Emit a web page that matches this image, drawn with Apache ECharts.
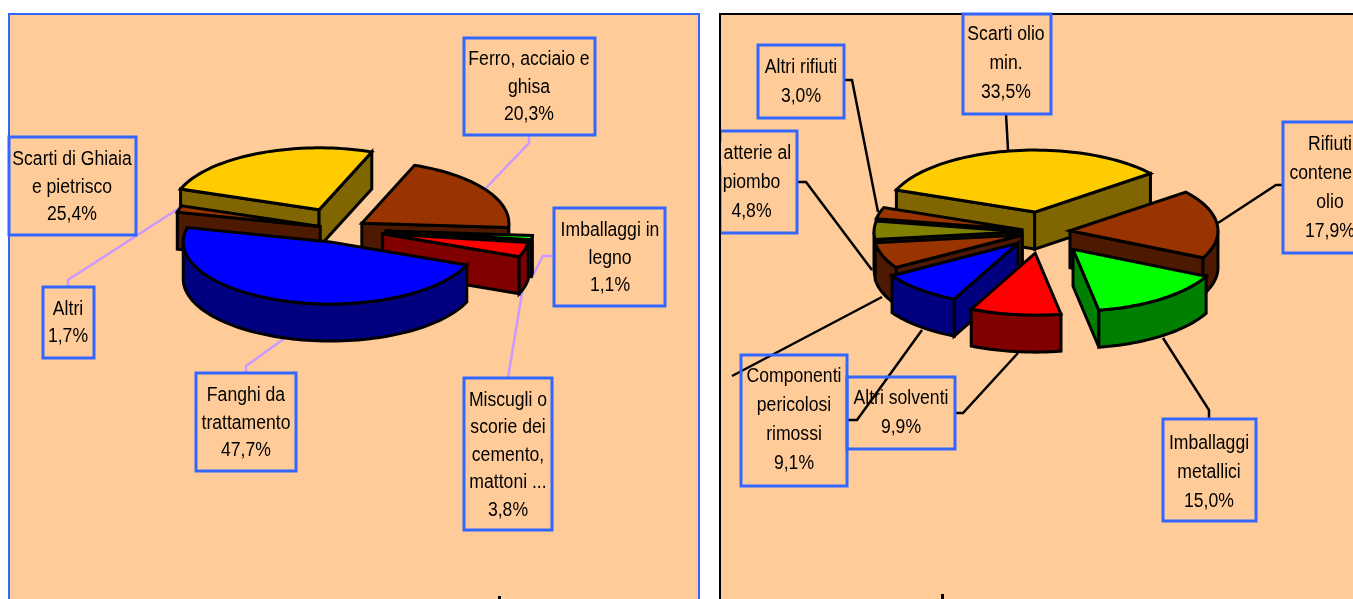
<!DOCTYPE html>
<html><head><meta charset="utf-8">
<style>html,body{margin:0;padding:0;background:#fff;overflow:hidden}#c{width:1353px;height:599px}</style>
<script src="https://cdn.jsdelivr.net/npm/echarts@6/dist/echarts.min.js"></script>
</head><body><div id="c"></div>
<script>
// ---- data (clockwise order, percent) ----
const leftCategories = ['Ferro, acciaio e ghisa','Imballaggi in legno','Miscugli o scorie dei cemento, mattoni ...','Fanghi da trattamento','Altri','Scarti di Ghiaia e pietrisco'];
const leftValues = [20.3,1.1,3.8,47.7,1.7,25.4];
const rightCategories = ['Rifiuti contenenti olio','Imballaggi metallici','Altri solventi','Componenti pericolosi rimossi','(etichetta fuori quadro)','Batterie al piombo','Altri rifiuti','Scarti olio min.'];
const rightValues = [17.9,15.0,9.9,9.1,6.8,4.8,3.0,33.5];

// ---- styles per slice ----
const leftColors = ['#993300','#00FF00','#FF0000','#0000FF','#993300','#FFCC00'];
const leftSides  = ['#4D1900','#008000','#800000','#000080','#4D1900','#806600'];
const leftExplode = [.176,.313,.30,.22,.14,.34];
const leftPaint = [1,2,3,5,4,0];
const rightColors = ['#993300','#00FF00','#FF0000','#0000FF','#993300','#808000','#993300','#FFCC00'];
const rightSides  = ['#4D1900','#008000','#800000','#000080','#4D1900','#404000','#4D1900','#806600'];
const rightExplode = [.19,.348,.344,.242,.143,.135,.14,.325];
const rightPaint = [1,2,7,6,5,4,3,0];

const RY=62, DEPTH=37;
const rad=d=>d*Math.PI/180;

function pieSeries(name,categories,values,colors,sides,explode,paint,cx,cy,startAngle,RX){
  const total=values.reduce((a,b)=>a+b,0);
  let acc=startAngle; const ranges=values.map(v=>{const s=acc; acc-=v/total*360; return [s,acc];});
  return {
    type:'custom', name, coordinateSystem:'none', z:5, silent:true, clip:false,
    data:categories.map((c,i)=>({name:c,value:values[i]})),
    renderItem(params){
      const i=params.dataIndex,[a1,a2]=ranges[i],mid=(a1+a2)/2;
      const ax=cx+explode[i]*RX*Math.cos(rad(mid)), ay=cy-explode[i]*RY*Math.sin(rad(mid));
      const pt=a=>[ax+RX*Math.cos(rad(a)),ay-RY*Math.sin(rad(a))];
      const arc=(s,e)=>{const n=Math.max(2,Math.ceil(Math.abs(s-e)/2));const r=[];for(let k=0;k<=n;k++)r.push(pt(s+(e-s)*k/n));return r;};
      const stroke={stroke:'#000',lineWidth:3,lineJoin:'miter',miterLimit:4};
      const z0=paint[i]*10, children=[];
      const poly=(points,fill,z)=>children.push({type:'polygon',z2:z0+z,shape:{points},style:Object.assign({fill},stroke)});
      const down=p=>[p[0],p[1]+DEPTH];
      const ps=pt(a1),pe=pt(a2),ap=[ax,ay];
      if(Math.cos(rad(a1))<0) poly([ap,ps,down(ps),down(ap)],sides[i],1);
      if(Math.cos(rad(a2))>0) poly([ap,pe,down(pe),down(ap)],sides[i],1);
      [0,-360].forEach(k=>{
        const s=Math.min(a1,k),e=Math.max(a2,k-180);
        if(s>e){const r=arc(s,e);poly(r.concat(r.slice().reverse().map(down)),sides[i],2);}
      });
      poly([ap].concat(arc(a1,a2)),colors[i],3);
      return {type:'group',children};
    }
  };
}

// ---- annotation layout ----
const PURPLE='#CC99FF', BLUE='#3366FF', BLACK='#000';
const boxes=[
 {r:[464,38,131,97],cx:529,cy:87,t:'Ferro, acciaio e\nghisa\n20,3%'},
 {r:[554,208,111,98],cx:610,cy:258,t:'Imballaggi in\nlegno\n1,1%'},
 {r:[464,378,88,152],cx:508,cy:455,t:'Miscugli o\nscorie dei\ncemento,\nmattoni ...\n3,8%'},
 {r:[196,373,100,98],cx:246,cy:423,t:'Fanghi da\ntrattamento\n47,7%'},
 {r:[43,287,51,71],cx:68,cy:323,t:'Altri\n1,7%'},
 {r:[9,137,127,98],cx:72,cy:187,t:'Scarti di Ghiaia\ne pietrisco\n25,4%'},
 {r:[963,14,88,100],cx:1006,cy:63,t:'Scarti olio\nmin.\n33,5%'},
 {r:[758,45,86,73],cx:801,cy:82,t:'Altri rifiuti\n3,0%'},
 {r:[720,131,77,102],cx:751.5,cy:182,t:'Batterie al\npiombo\n4,8%'},
 {r:[741,355,106,131],cx:794,cy:420,t:'Componenti\npericolosi\nrimossi\n9,1%'},
 {r:[847,377,108,72],cx:901,cy:413,t:'Altri solventi\n9,9%'},
 {r:[1163,419,93,102],cx:1209,cy:472,t:'Imballaggi\nmetallici\n15,0%'},
 {r:[1283,122,94,131],cx:1330,cy:188,t:'Rifiuti\ncontenenti\nolio\n17,9%'}
];
const leaders=[
 {c:PURPLE,p:[[529,135],[529,143],[486,188]]},
 {c:PURPLE,p:[[554,256],[543,256],[532,277]]},
 {c:PURPLE,p:[[508,378],[523,287]]},
 {c:PURPLE,p:[[246,373],[246,366],[285,338]]},
 {c:PURPLE,p:[[68,287],[68,280],[181,207]]},
 {c:BLACK,p:[[1006,114],[1008,150]]},
 {c:BLACK,p:[[844,80],[852,80],[878,212]]},
 {c:BLACK,p:[[797,182],[806,182],[872,270]]},
 {c:BLACK,p:[[732,376],[882,297]]},
 {c:BLACK,p:[[847,420],[857,420],[922,330]]},
 {c:BLACK,p:[[955,413],[963,413],[1018,353]]},
 {c:BLACK,p:[[1209,419],[1209,410],[1163,338]]},
 {c:BLACK,p:[[1283,185],[1276,185],[1218,223]]}
];

const graphicEls=[
 {type:'rect',z:0,silent:true,shape:{x:9,y:14,width:690,height:620},style:{fill:'#FFCC99',stroke:BLUE,lineWidth:2}},
 {type:'rect',z:0,silent:true,shape:{x:720,y:14,width:700,height:620},style:{fill:'#FFCC99',stroke:'#000',lineWidth:2}},
];
leaders.forEach(l=>graphicEls.push({type:'polyline',z:1,silent:true,shape:{points:l.p},style:{fill:null,stroke:l.c,lineWidth:2.5}}));
boxes.forEach(b=>{
  graphicEls.push({type:'rect',z:8,silent:true,shape:{x:b.r[0],y:b.r[1],width:b.r[2],height:b.r[3]},style:{fill:null,stroke:BLUE,lineWidth:3}});
  graphicEls.push({type:'text',z:8,silent:true,x:b.cx,y:b.cy,scaleX:.88,style:{x:0,y:0,text:b.t,font:'20px "Liberation Sans", Arial, sans-serif',fill:'#000',align:'center',verticalAlign:'middle',lineHeight:b.cx<700?27.5:29}});
});
// white gutter clipping the box and text that run past the right panel's left edge
graphicEls.push({type:'rect',z:9,silent:true,shape:{x:701,y:0,width:18,height:599},style:{fill:'#fff'}});
graphicEls.push({type:'rect',z:9,silent:true,shape:{x:721,y:142,width:3,height:24},style:{fill:'#FFCC99'}});
graphicEls.push({type:'rect',z:9,silent:true,shape:{x:719,y:14,width:2,height:599},style:{fill:'#000'}});
// title tips cut off by the bottom edge
graphicEls.push({type:'rect',z:1,silent:true,shape:{x:498,y:596,width:3,height:3},style:{fill:'#000'}});
graphicEls.push({type:'rect',z:1,silent:true,shape:{x:941,y:594,width:3,height:5},style:{fill:'#000'}});

const chart=echarts.init(document.getElementById('c'),null,{renderer:'canvas'});
chart.setOption({
  animation:false,
  backgroundColor:'#fff',
  graphic:{elements:graphicEls},
  series:[
    pieSeries('sinistra',leftCategories,leftValues,leftColors,leftSides,leftExplode,leftPaint,340,229,69,147),
    pieSeries('destra',rightCategories,rightValues,rightColors,rightSides,rightExplode,rightPaint,1042,232,38.5,148)
  ]
});
</script></body></html>
